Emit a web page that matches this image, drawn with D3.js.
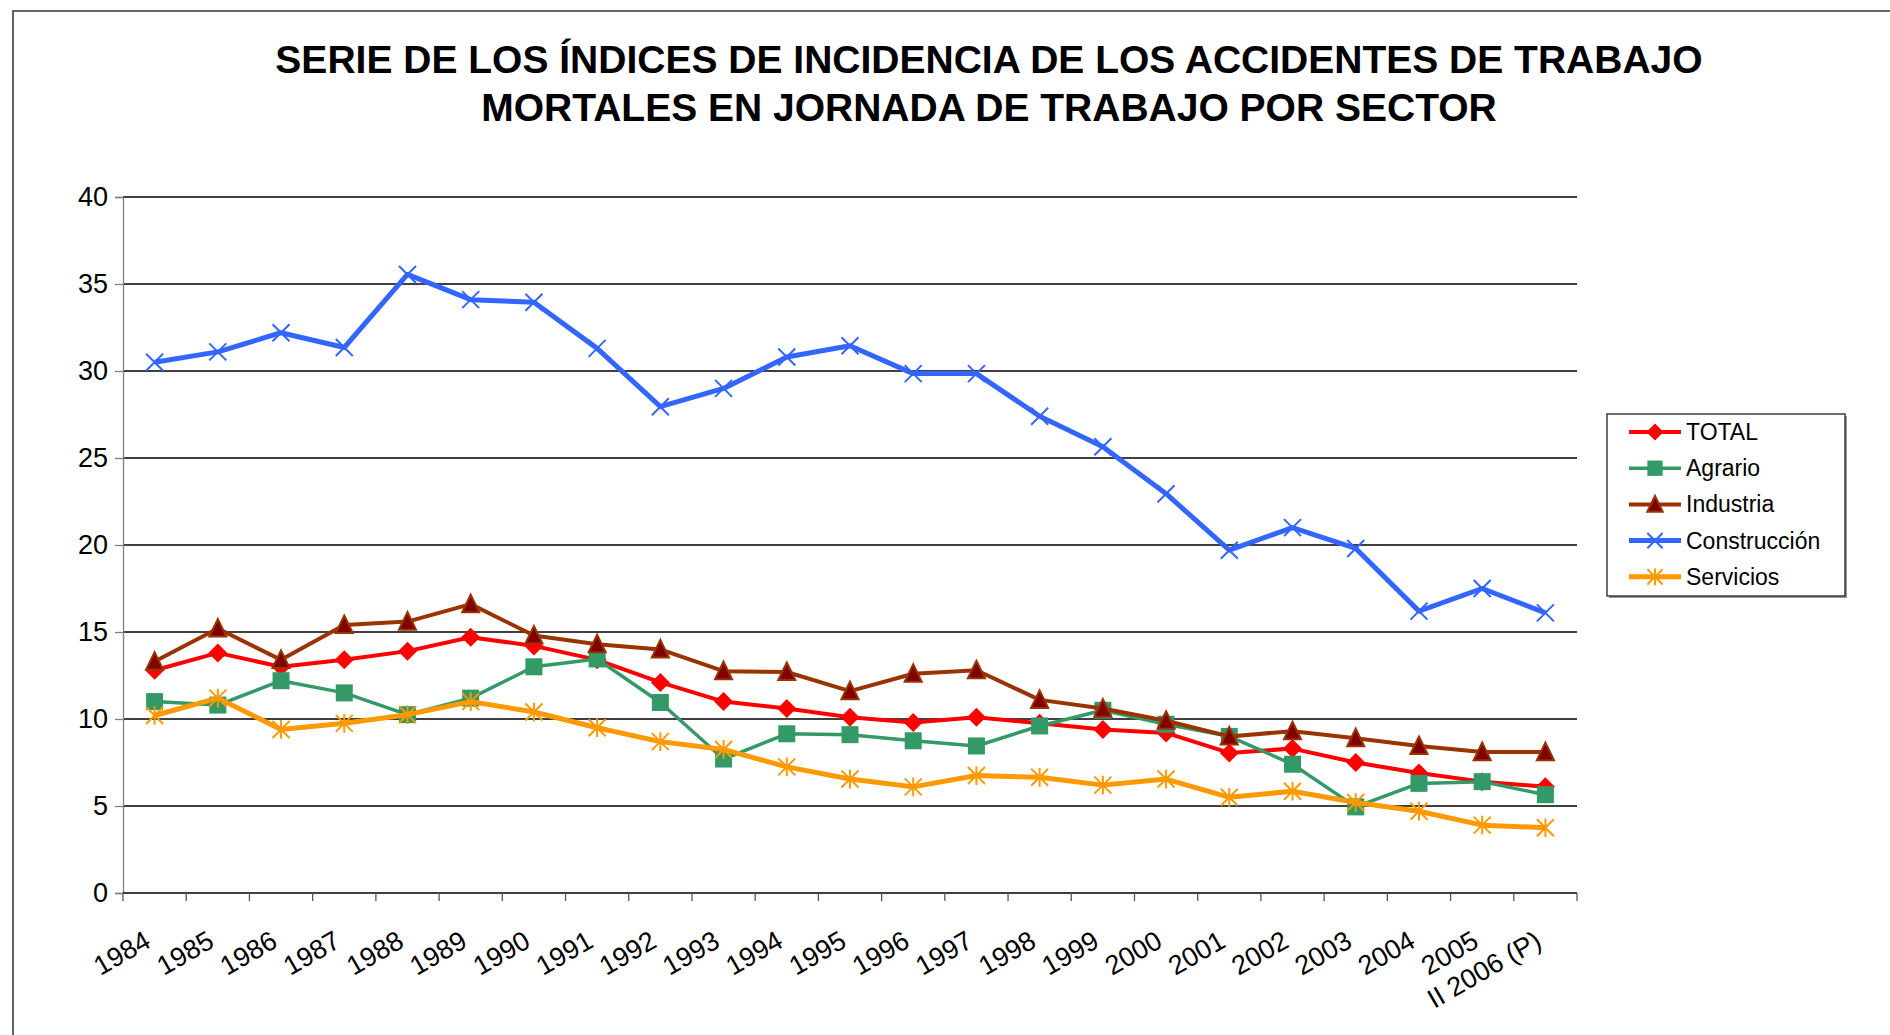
<!DOCTYPE html>
<html>
<head>
<meta charset="utf-8">
<script src="https://cdn.jsdelivr.net/npm/d3@7"></script>
<style>
  body { margin: 0; background: #fff; }
  svg { display: block; font-family: "Liberation Sans", Arial, sans-serif; }
</style>
</head>
<body>
<script>
var categories = ["1984","1985","1986","1987","1988","1989","1990","1991","1992","1993","1994",
  "1995","1996","1997","1998","1999","2000","2001","2002","2003","2004","2005","II 2006 (P)"];

var total        = [12.8,13.8,13.0,13.4,13.9,14.7,14.2,13.4,12.1,11.0,10.6,10.1,9.8,10.1,9.75,9.4,9.2,8.05,8.3,7.5,6.9,6.4,6.1];
var agrario      = [11.0,10.8,12.2,11.5,10.25,11.2,13.0,13.45,10.95,7.7,9.15,9.1,8.75,8.45,9.6,10.5,9.7,9.0,7.4,4.95,6.3,6.4,5.65];
var industria    = [13.3,15.2,13.4,15.4,15.6,16.6,14.8,14.3,14.0,12.75,12.7,11.6,12.6,12.8,11.1,10.6,9.9,9.0,9.3,8.9,8.45,8.1,8.1];
var construccion = [30.5,31.1,32.2,31.35,35.55,34.1,33.95,31.3,27.95,29.0,30.8,31.45,29.85,29.85,27.4,25.65,22.95,19.7,21.0,19.8,16.2,17.5,16.1];
var servicios    = [10.2,11.2,9.4,9.75,10.25,11.0,10.4,9.5,8.7,8.25,7.25,6.55,6.1,6.75,6.65,6.2,6.55,5.5,5.85,5.2,4.7,3.9,3.75];

var yTicks = [0,5,10,15,20,25,30,35,40];
var titleLines = ["SERIE DE LOS ÍNDICES DE INCIDENCIA DE LOS ACCIDENTES DE TRABAJO",
                  "MORTALES EN JORNADA DE TRABAJO POR SECTOR"];

var series = [
  {name: "TOTAL",        values: total,        color: "#FF0000", width: 4,   marker: "diamond"},
  {name: "Agrario",      values: agrario,      color: "#339966", width: 3.5, marker: "square"},
  {name: "Industria",    values: industria,    color: "#993300", width: 4,   marker: "triangle"},
  {name: "Construcción", values: construccion, color: "#3366FF", width: 5,   marker: "x"},
  {name: "Servicios",    values: servicios,    color: "#FF9900", width: 5,   marker: "star"}
];

var width = 1890, height = 1035;
// plot box (note: "top" is taken by window.top, so prefix these)
var plotLeft = 123, plotRight = 1577, plotTop = 197, plotBottom = 893;

var svg = d3.select("body").append("svg")
  .attr("width", width)
  .attr("height", height);

// chart border (runs off the right / bottom edge)
svg.append("rect")
  .attr("x", 13).attr("y", 11)
  .attr("width", 1900).attr("height", 1100)
  .attr("fill", "none").attr("stroke", "#333").attr("stroke-width", 1.5);

// title
svg.append("g").selectAll("text")
  .data(titleLines)
  .enter().append("text")
  .attr("x", 989)
  .attr("y", (d, i) => 73 + i * 48)
  .attr("text-anchor", "middle")
  .attr("font-size", 39)
  .attr("font-weight", "bold")
  .text(d => d);

var x = d3.scaleBand().domain(categories).range([plotLeft, plotRight]);
var y = d3.scaleLinear().domain([0, 40]).range([plotBottom, plotTop]);
var cx = d => x(d) + x.bandwidth() / 2;

// gridlines
svg.append("g").selectAll("line")
  .data(yTicks.filter(d => d > 0))
  .enter().append("line")
  .attr("x1", plotLeft).attr("x2", plotRight)
  .attr("y1", d => y(d)).attr("y2", d => y(d))
  .attr("stroke", "#000").attr("stroke-width", 1.3);

// y axis
var yAxis = svg.append("g")
  .attr("transform", "translate(" + plotLeft + ",0)")
  .call(d3.axisLeft(y).tickValues(yTicks).tickSize(8).tickPadding(7));
yAxis.select(".domain").attr("stroke", "#808080").attr("stroke-width", 1.3);
yAxis.selectAll(".tick line").attr("stroke", "#808080").attr("stroke-width", 1.3);
yAxis.selectAll(".tick text")
  .attr("font-family", "'Liberation Sans', Arial, sans-serif")
  .attr("font-size", 27).attr("fill", "#000");

// x axis
svg.append("line")
  .attr("x1", plotLeft).attr("x2", plotRight)
  .attr("y1", plotBottom).attr("y2", plotBottom)
  .attr("stroke", "#000").attr("stroke-width", 1.5);

var tickPos = categories.map(c => x(c)).concat([x.range()[1]]);
svg.append("g").selectAll("line")
  .data(tickPos)
  .enter().append("line")
  .attr("x1", d => d).attr("x2", d => d)
  .attr("y1", plotBottom).attr("y2", plotBottom + 8)
  .attr("stroke", "#555").attr("stroke-width", 1.3);

svg.append("g").selectAll("text")
  .data(categories)
  .enter().append("text")
  .attr("transform", d => "translate(" + (cx(d) - 2) + "," + (plotBottom + 53) + ") rotate(-30)")
  .attr("text-anchor", "end")
  .attr("font-size", 27)
  .text(d => d);

// markers
function drawMarker(g, type, color, s) {
  if (type === "diamond") {
    g.append("path").attr("d", "M0," + (-s) + "L" + s + ",0L0," + s + "L" + (-s) + ",0Z")
      .attr("fill", color);
  } else if (type === "square") {
    g.append("rect").attr("x", -s).attr("y", -s).attr("width", 2 * s).attr("height", 2 * s)
      .attr("fill", color);
  } else if (type === "triangle") {
    g.append("path").attr("d", "M0," + (-s) + "L" + (s * 0.9) + "," + (s * 0.85) + "L" + (-s * 0.9) + "," + (s * 0.85) + "Z")
      .attr("fill", "#800000").attr("stroke", color).attr("stroke-width", 2);
  } else if (type === "x") {
    g.append("path").attr("d", "M" + (-s) + "," + (-s) + "L" + s + "," + s + "M" + s + "," + (-s) + "L" + (-s) + "," + s)
      .attr("stroke", color).attr("stroke-width", 2).attr("fill", "none");
  } else if (type === "star") {
    g.append("path").attr("d", "M" + (-s) + "," + (-s) + "L" + s + "," + s + "M" + s + "," + (-s) + "L" + (-s) + "," + s +
        "M0," + (-s * 1.1) + "L0," + (s * 1.1))
      .attr("stroke", color).attr("stroke-width", 2).attr("fill", "none");
  }
}

var markerSize = {diamond: 9.5, square: 8.5, triangle: 9.5, x: 8.5, star: 8.5};

var line = d3.line()
  .x((d, i) => cx(categories[i]))
  .y(d => y(d));

series.forEach(function(s) {
  var g = svg.append("g");
  g.append("path")
    .datum(s.values)
    .attr("d", line)
    .attr("fill", "none")
    .attr("stroke", s.color)
    .attr("stroke-width", s.width)
    .attr("stroke-linejoin", "round");
  s.values.forEach(function(v, i) {
    var m = g.append("g").attr("transform", "translate(" + cx(categories[i]) + "," + y(v) + ")");
    drawMarker(m, s.marker, s.color, markerSize[s.marker]);
  });
});

// legend
var legend = svg.append("g");
legend.append("rect")
  .attr("x", 1609).attr("y", 416).attr("width", 238).attr("height", 182)
  .attr("fill", "#999");
legend.append("rect")
  .attr("x", 1607).attr("y", 414).attr("width", 238).attr("height", 182)
  .attr("fill", "#fff").attr("stroke", "#222").attr("stroke-width", 1.3);

series.forEach(function(s, i) {
  var ly = 432 + i * 36.2;
  var g = legend.append("g");
  g.append("line")
    .attr("x1", 1629).attr("x2", 1681)
    .attr("y1", ly).attr("y2", ly)
    .attr("stroke", s.color).attr("stroke-width", s.width);
  var m = g.append("g").attr("transform", "translate(1655," + ly + ")");
  drawMarker(m, s.marker, s.color, markerSize[s.marker] * 0.9);
  g.append("text")
    .attr("x", 1686).attr("y", ly + 8)
    .attr("font-size", 23)
    .text(s.name);
});
</script>
</body>
</html>
